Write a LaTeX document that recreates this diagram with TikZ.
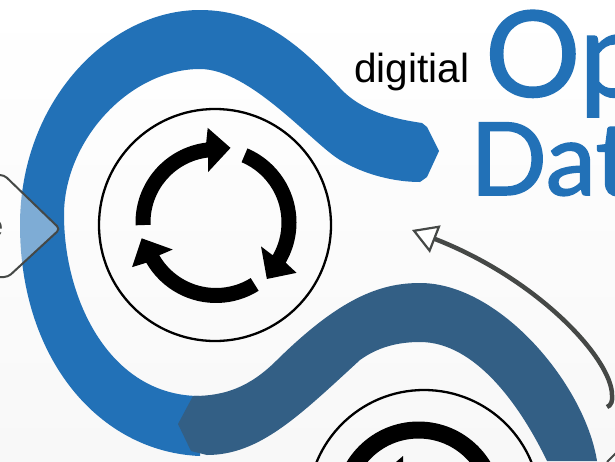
\documentclass[tikz,border=0pt]{standalone}
\usepackage{xcolor}
\usepackage{fontspec}
\usetikzlibrary{arrows.meta}
\setmainfont{Liberation Sans}
\newfontfamily\titlefont[FakeBold=1.5]{Lato}
\definecolor{bandblue}{HTML}{2271B7}
\definecolor{banddark}{HTML}{335F85}
\definecolor{linegray}{HTML}{454846}
\definecolor{pagegray}{HTML}{F8F8F8}
\tikzset{
  ringcircle/.style={draw, circle, line width=2.3pt, minimum size=232pt, inner sep=0pt, outer sep=0pt},
  titletext/.style={text=bandblue, inner sep=0pt, anchor=base west, font=\titlefont},
  wordtext/.style={inner sep=0pt, anchor=base west, font=\fontsize{40.6}{40.6}\selectfont}
}

\begin{document}
\begin{tikzpicture}[x=1pt, y=1pt, yscale=-1]
\useasboundingbox (0,0) rectangle (615,461);
\clip (0,0) rectangle (615,461);
\shade[top color=white, bottom color=pagegray] (0,0) rectangle (615,461);
% Bands
\fill[bandblue] (200,456) .. controls (100,452) and (20,360) .. (20,225)
  .. controls (20,100) and (110,10) .. (200,10)
  .. controls (260,10) and (300,45) .. (340,88)
  .. controls (362,112) and (395,119) .. (422,123)
  -- (427,127) -- (439,151) -- (427,177) -- (420,182)
  .. controls (395,182) and (365,175) .. (340,160)
  .. controls (312,143) and (250,69) .. (200,69)
  .. controls (130,69) and (64,140) .. (64,215)
  .. controls (64,300) and (110,396) .. (200,396) -- cycle;
\fill[banddark] (193,396) -- (178,424) -- (191,451) -- (207,455)
  .. controls (260,455) and (300,415) .. (360,360)
  .. controls (378,347) and (398,342) .. (420,342)
  .. controls (475,342) and (520,405) .. (547,461) -- (597,461)
  .. controls (585,385) and (500,283) .. (420,283)
  .. controls (380,283) and (340,298) .. (277,360)
  .. controls (250,387) and (225,396) .. (193,396) -- cycle;
% Rings
\node[ringcircle] (ringa) at (215,225) {};
\node[ringcircle] (ringb) at (424,506) {};
\begin{scope}[shift={(216,222.5)}]
\foreach \s/\b in {178/263, 293/390, 58/150}
  \fill (\s:80.5) arc[start angle=\s, end angle=\b, radius=80.5] -- ({\b+2}:95) -- ({\b+18}:76) -- ({\b-2}:51) -- (\b:65.5) arc[start angle=\b, end angle=\s, radius=65.5] -- cycle;
\end{scope}
\draw[line width=17pt] (418.5,505.5) circle[radius=75.5];
\fill (403,456) -- (396,462) -- (403,462) -- cycle;
% Texts
\node[wordtext] (word) at (354,82) {digitial};
\node[titletext, font=\titlefont\fontsize{119}{119}\selectfont] (titlea) at (485,96.5) {Op};
\node[titletext, font=\titlefont\fontsize{101}{101}\selectfont] (titleb) at (470,195) {Dat};
% Left box
\draw[linegray, line width=2pt, fill=white, fill opacity=.42, rounded corners=4pt] (-20,175) -- (4,175) -- (60,229) -- (8,277) -- (-20,277);
\node[anchor=east, inner sep=0pt, text=linegray, font=\fontsize{30}{30}\selectfont] (boxtext) at (3.5,229) {e};
% Arrow
\coordinate (tail) at (607,407);
\coordinate (bend) at (612,395);
\coordinate (tip) at (412,230);
\draw[linegray, line width=4.5pt, -{Triangle[open, fill=white, length=25pt, width=29pt, line width=2.2pt]}] (tail) .. controls (611,406) and (613,400) .. (bend) .. controls (612,360) and (540,280) .. (tip);
\coordinate (nextstart) at (607,462);
\coordinate (nextend) at (616,453);
\draw[linegray, line width=2pt] (nextstart) -- (nextend);
\end{tikzpicture}
\end{document}
